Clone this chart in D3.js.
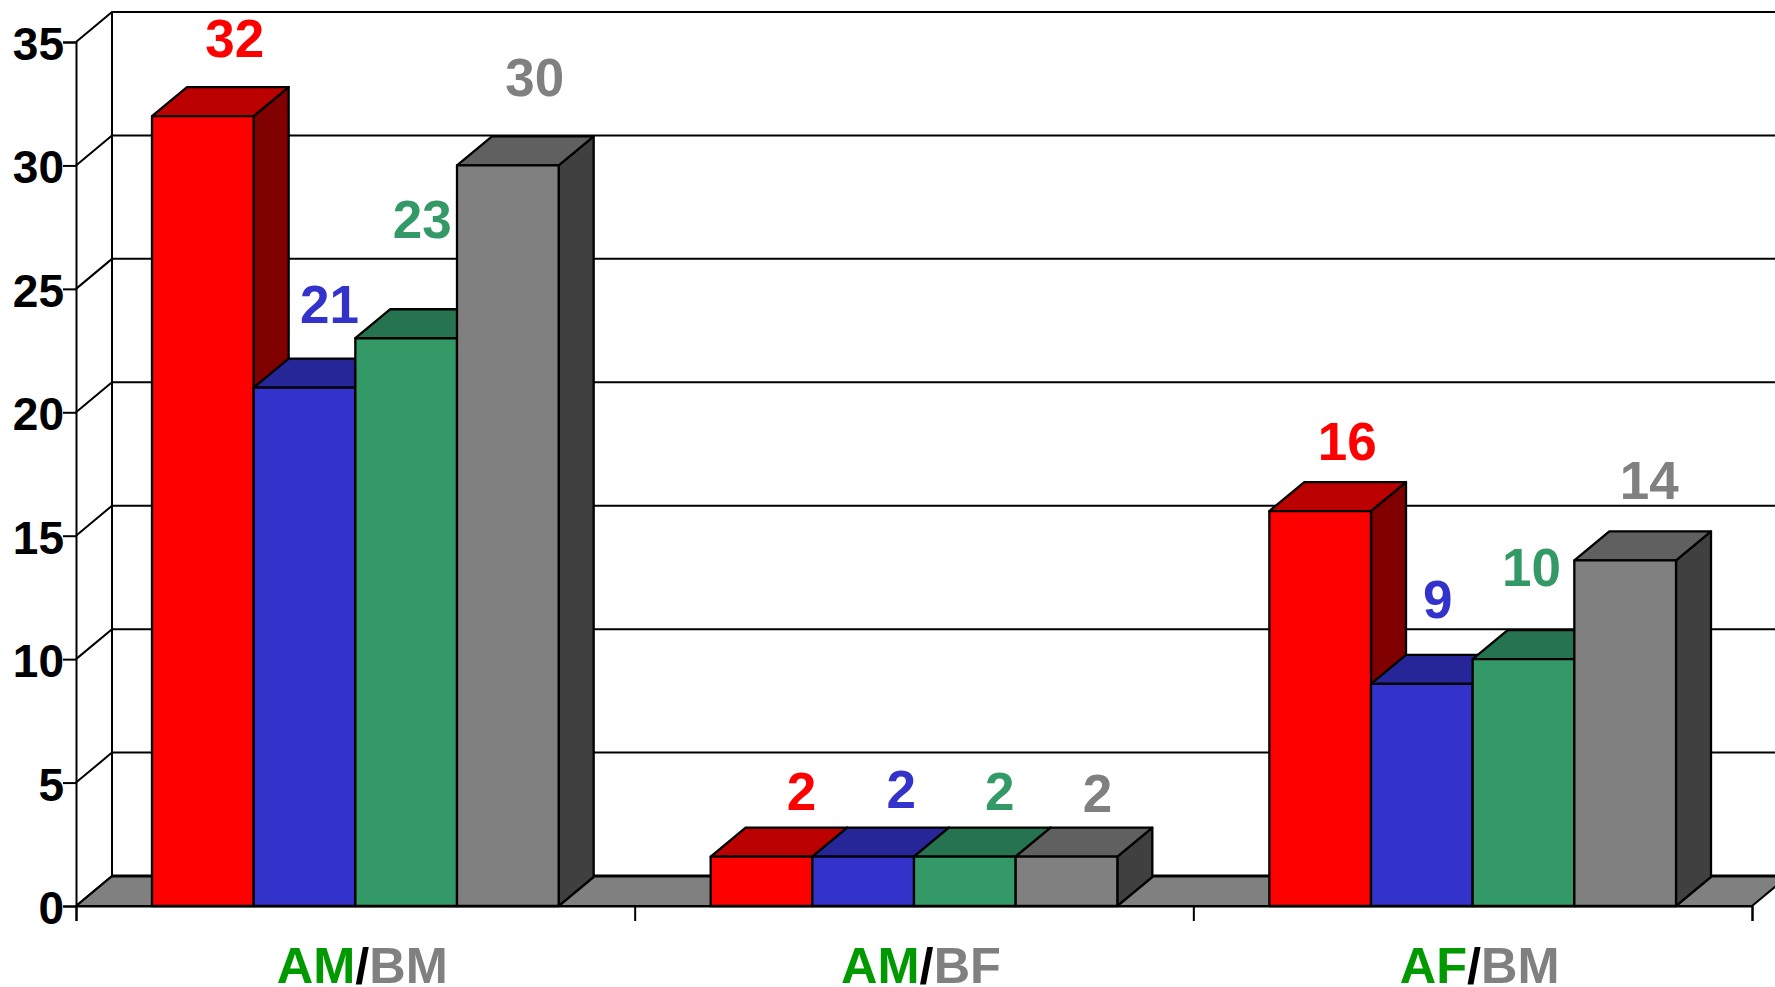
<!DOCTYPE html>
<html>
<head>
<meta charset="utf-8">
<script src="https://cdnjs.cloudflare.com/ajax/libs/d3/7.8.5/d3.min.js"></script>
<style>
  html, body { margin: 0; padding: 0; background: #fff; overflow: hidden; }
  svg { display: block; }
  text { font-family: "Liberation Sans", Arial, sans-serif; font-weight: bold; }
</style>
</head>
<body>
<svg></svg>
<script>
// Chart data
let categories = ['AM/BM', 'AM/BF', 'AF/BM'];
let seriesNames = ['red', 'blue', 'green', 'grey'];
let redValues = [32, 2, 16];
let blueValues = [21, 2, 9];
let greenValues = [23, 2, 10];
let greyValues = [30, 2, 14];
let yTicks = [0, 5, 10, 15, 20, 25, 30, 35];

// Colours per series: front, top, side
let frontColors = ['#ff0000', '#3333cc', '#339966', '#808080'];
let topColors = ['#bb0000', '#262699', '#267350', '#606060'];
let sideColors = ['#800000', '#1a1a66', '#1a4d33', '#404040'];

// The value labels are hand placed in the original: shift from bar centre / bar top
let labelShiftX = [[32, 40, 27], [25, 38, 16], [16, 35, 8], [27, 31, 24]];
let labelShiftY = [[-59, -47, -51], [-65, -49, -66], [-100, -47, -73], [-69, -45, -61]];

let width = 1775;
let height = 987;
let left = 76;
let right = 1752;
let baseY = 906;
let topY = 42;
let wallDx = 36;
let wallDy = 30;
let barDx = 35;
let barDy = 29;

let svg = d3.select('svg').attr('width', width).attr('height', height);

// Scales
let yScale = d3.scaleLinear().domain([0, 35]).range([baseY, topY]);
let xScale = d3.scaleBand().domain(categories).range([left, right]);
let barScale = d3.scaleBand().domain(seriesNames).range([76, xScale.bandwidth() - 76]);
let edgeScale = d3.scaleLinear().domain([0, categories.length]).range([left, right]);

let allValues = [redValues, blueValues, greenValues, greyValues];

// Floor and walls
let drawWalls = () => {
    svg.append('polygon')
        .attr('points', [
            [left, baseY],
            [left + wallDx, baseY - wallDy],
            [right + wallDx, baseY - wallDy],
            [right, baseY]
        ].join(' '))
        .attr('fill', '#808080')
        .attr('stroke', '#000')
        .attr('stroke-width', 2);

    // thicker back edge of the floor
    svg.append('line')
        .attr('x1', left + wallDx).attr('x2', right + wallDx)
        .attr('y1', baseY - wallDy).attr('y2', baseY - wallDy)
        .attr('stroke', '#000')
        .attr('stroke-width', 3);

    // back wall grid lines and the slanted lines on the left wall
    svg.selectAll('.grid')
        .data(yTicks.filter((d) => d > 0))
        .enter()
        .append('path')
        .attr('class', 'grid')
        .attr('fill', 'none')
        .attr('stroke', '#000')
        .attr('stroke-width', 2)
        .attr('d', (d) => {
            let y = yScale(d);
            return 'M' + left + ',' + y
                + 'L' + (left + wallDx) + ',' + (y - wallDy)
                + 'L' + (right + wallDx) + ',' + (y - wallDy);
        });

    svg.append('line')
        .attr('x1', left + wallDx).attr('x2', left + wallDx)
        .attr('y1', topY - wallDy).attr('y2', baseY - wallDy)
        .attr('stroke', '#000')
        .attr('stroke-width', 2);

    svg.append('line')
        .attr('x1', left).attr('x2', left + wallDx)
        .attr('y1', baseY).attr('y2', baseY - wallDy)
        .attr('stroke', '#000')
        .attr('stroke-width', 2);
};

// 3D bars, painted left to right so each front covers its neighbour's side
let drawBars = () => {
    categories.forEach((cat, c) => {
        let g = svg.append('g').attr('class', 'group');
        seriesNames.forEach((name, s) => {
            let v = allValues[s][c];
            let x0 = xScale(cat) + barScale(name);
            let x1 = x0 + barScale.bandwidth();
            let y = yScale(v);

            let addFace = (points, fill) => {
                g.append('polygon')
                    .attr('points', points.join(' '))
                    .attr('fill', fill)
                    .attr('stroke', '#000')
                    .attr('stroke-width', 2.3)
                    .attr('stroke-linejoin', 'round');
            };

            addFace([[x1, y], [x1 + barDx, y - barDy], [x1 + barDx, baseY - barDy], [x1, baseY]], sideColors[s]);
            addFace([[x0, y], [x0 + barDx, y - barDy], [x1 + barDx, y - barDy], [x1, y]], topColors[s]);
            addFace([[x0, y], [x1, y], [x1, baseY], [x0, baseY]], frontColors[s]);
        });
    });
};

// Axes
let drawAxes = () => {
    let yAxis = d3.axisLeft(yScale)
        .tickValues(yTicks)
        .tickSize(13)
        .tickPadding(-1);

    let yGroup = svg.append('g')
        .attr('transform', 'translate(' + left + ',0)')
        .call(yAxis);
    yGroup.select('.domain').attr('stroke', '#000').attr('stroke-width', 2);
    yGroup.selectAll('.tick line').attr('stroke', '#000').attr('stroke-width', 2);
    yGroup.selectAll('.tick text')
        .attr('dy', '0.38em')
        .style('font-family', '"Liberation Sans", Arial, sans-serif')
        .style('font-size', '46px')
        .style('font-weight', 'bold')
        .attr('fill', '#000');

    let xAxis = d3.axisBottom(edgeScale)
        .tickValues(d3.range(categories.length + 1))
        .tickSize(15)
        .tickFormat('');

    let xGroup = svg.append('g')
        .attr('transform', 'translate(0,' + baseY + ')')
        .call(xAxis);
    xGroup.select('.domain').attr('stroke', '#000').attr('stroke-width', 2);
    xGroup.selectAll('.tick line').attr('stroke', '#000').attr('stroke-width', 2);
};

// Numbers over the bars
let drawValueLabels = () => {
    seriesNames.forEach((name, s) => {
        svg.selectAll('.label-' + name)
            .data(allValues[s])
            .enter()
            .append('text')
            .attr('class', 'label-' + name)
            .attr('text-anchor', 'middle')
            .attr('font-size', 53)
            .attr('fill', frontColors[s])
            .attr('x', (d, c) => xScale(categories[c]) + barScale(name) + barScale.bandwidth() / 2 + labelShiftX[s][c])
            .attr('y', (d, c) => yScale(d) + labelShiftY[s][c])
            .text((d) => d);
    });
};

// Category names, each side of the slash in its own colour
let drawCategoryLabels = () => {
    categories.forEach((cat, c) => {
        let parts = cat.split('/');
        let label = svg.append('text')
            .attr('text-anchor', 'middle')
            .attr('font-size', 50.5)
            .attr('x', xScale(cat) + xScale.bandwidth() / 2 + 7)
            .attr('y', 983);
        label.append('tspan').attr('fill', '#009900').text(parts[0]);
        label.append('tspan').attr('fill', '#000').text('/');
        label.append('tspan').attr('fill', '#808080').text(parts[1]);
    });
};

drawWalls();
drawAxes();
drawBars();
drawValueLabels();
drawCategoryLabels();
</script>
</body>
</html>
